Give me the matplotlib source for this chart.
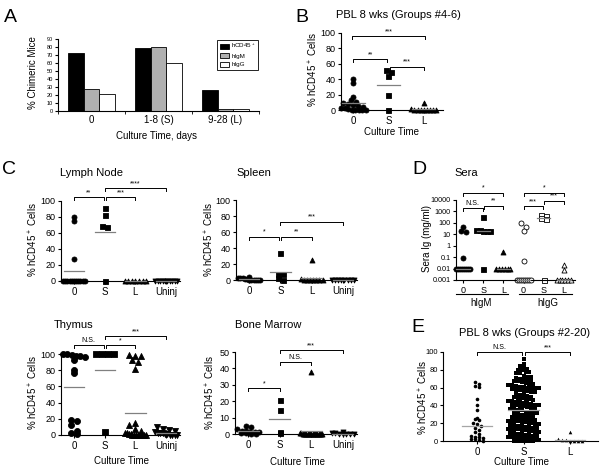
import matplotlib.pyplot as plt
import numpy as np

plt.rcParams['font.family'] = ['Liberation Sans', 'DejaVu Sans']
plt.rcParams['mathtext.fontset'] = 'custom'
plt.rcParams['mathtext.rm'] = 'Liberation Sans'
plt.rcParams['mathtext.default'] = 'regular'

# ---- data ----
# A: % chimeric mice
a_groups = ['0', '1-8 (S)', '9-28 (L)']
a_cd45 = [72, 79, 26]
a_igm = [28, 80, 2]
a_igg = [21, 60, 2]

# B: PBL 8 wks (groups 4-6)
b_0 = [40, 35, 17, 13, 10, 9, 8, 7, 5, 4, 3, 2, 1, 0, 0, 0, 0, 0]
b_S = [52, 50, 44, 19, 0]
b_L = [9, 1, 0, 0, 0, 0, 0, 0, 0, 0]

# C: organs
ln_0 = [80, 75, 27, 0, 0, 0, 0, 0, 0, 0, 0, 0, 0, 0]
ln_S = [91, 82, 69, 67, 0]
ln_L = [0, 0, 0, 0, 0, 0, 0]
ln_U = [0, 0, 0, 0, 0, 0, 0, 0, 0, 0]

sp_0 = [4, 3, 2, 2, 1, 1, 0.5, 0, 0, 0, 0, 0]
sp_S = [34, 8, 7, 3, 0]
sp_L = [25, 1, 0, 0, 0, 0, 0, 0, 0]
sp_U = [0, 0, 0, 0, 0, 0, 0, 0]

th_0 = [100, 100, 99, 98, 97, 96, 93, 80, 77, 19, 17, 12, 5, 2, 1]
th_S = [100, 100, 100, 100, 4]
th_L = [99, 98, 97, 93, 90, 82, 15, 12, 8, 5, 3, 2, 1, 1, 0, 0, 0, 0, 0, 0, 0, 0]
th_U = [10, 8, 6, 5, 4, 3, 2, 2, 1, 1, 0, 0, 0, 0]

bm_0 = [5, 4, 3, 2, 2, 1, 1, 1, 0.5, 0.5, 0, 0]
bm_S = [21, 14.5, 1.5, 0.5]
bm_L = [38, 0.5, 0.5, 0.3, 0.3, 0.2, 0, 0, 0, 0, 0, 0, 0, 0, 0, 0, 0, 0, 0, 0]
bm_U = [1, 0.5, 0.5, 0.3, 0, 0, 0, 0]

# D: sera Ig (mg/ml)
d_igm_0 = [40, 20, 15, 0.08, 0.01, 0.01, 0.01, 0.01, 0.01, 0.01, 0.01, 0.01]
d_igm_S = [350, 25, 22, 20, 20, 20, 0.01]
d_igm_L = [0.3, 0.01, 0.01, 0.01, 0.01, 0.01, 0.01]
d_igg_0 = [100, 40, 20, 0.05, 0.001, 0.001, 0.001, 0.001, 0.001, 0.001, 0.001, 0.001]
d_igg_S = [500, 400, 250, 230, 0.001]
d_igg_L = [0.02, 0.008, 0.001, 0.001, 0.001, 0.001, 0.001, 0.001]

# E: PBL 8 wks (groups 2-20)
e_0 = [66, 64, 62, 61, 47, 40, 35, 26, 25, 24, 20, 19, 17, 15, 12, 10, 8, 6, 5, 4, 3, 2, 2, 1, 0]
e_S = [92, 86, 84, 82, 81, 80, 80, 78, 77, 76, 76, 73, 72, 72, 71, 70,
       69, 68, 68, 67, 67, 66, 65, 64, 64, 63, 63, 62,
       61, 61, 60, 60, 59, 59, 58, 57, 57, 56, 56, 55, 55,
       53, 52, 52, 51, 50, 49, 48, 48, 47, 47, 46,
       45, 45, 44, 44, 43, 43, 42, 41, 41, 40, 40, 39, 39, 38,
       37, 37, 36, 36, 35, 35, 33, 33, 32, 32, 31, 30,
       29, 29, 28, 28, 27, 27, 26,
       25, 25, 24, 24, 23, 23, 22, 22, 21,
       21, 20, 20, 19, 19, 18, 18, 17,
       17, 16, 16, 15, 15, 14, 14, 13,
       13, 12, 12, 11, 11, 10, 10, 9,
       9, 8, 8, 7, 7, 6, 6, 5,
       5, 4, 4, 3, 3, 2, 2, 1,
       1, 1, 0.5, 0.5, 0, 0, 0, 0]
e_L = [10, 2, 1, 1, 0.5, 0, 0, 0]

W, H = 602, 470
fig = plt.figure(figsize=(W / 100, H / 100), dpi=100)


def box(l, t, r, b):
    ax = fig.add_axes([l / W, 1 - b / H, (r - l) / W, (b - t) / H])
    ax.spines[['top', 'right']].set_visible(False)
    ax.spines['left'].set_linewidth(0.8)
    ax.spines['bottom'].set_linewidth(0.8)
    ax.tick_params(direction='out', length=2.5, width=0.8, pad=1.5)
    ax.tick_params(axis='y', labelsize=6.5)
    ax.tick_params(axis='x', labelsize=7)
    return ax


def ftext(x, y, s, **kw):
    fig.text(x / W, 1 - y / H, s, ha='center', va='center', **kw)


def column(ax, x0, vals, marker, size_px, filled=True, maxw=0.7, stat='mean',
           gap=1.0, lcolor='0.5'):
    vals = np.asarray(vals, float)
    pix = ax.transData.transform(np.column_stack([np.full(len(vals), x0), vals]))
    unit = ax.transData.transform([[1, 0]])[0, 0] - ax.transData.transform([[0, 0]])[0, 0]
    cell = size_px * gap
    rows = np.round(pix[:, 1] / cell)
    xs = np.full(len(vals), float(x0))
    for r in np.unique(rows):
        idx = np.where(rows == r)[0]
        n = len(idx)
        if n > 1:
            step = min(cell, maxw * unit / (n - 1))
            xs[idx] = x0 + (np.arange(n) - (n - 1) / 2) * step / unit
    ms = size_px * 72 / 100
    ax.scatter(xs, vals, s=ms ** 2, marker=marker,
               facecolors='k' if filled else 'white', edgecolors='k',
               linewidths=0.6 if gap == 1.0 else 0.0, clip_on=False, zorder=2)
    m = np.median(vals) if stat == 'median' else np.mean(vals)
    ax.plot([x0 - 0.33, x0 + 0.33], [m, m], color=lcolor, lw=0.9, zorder=3,
            clip_on=False)


def bracket(ax, x1, x2, y, label, tip=3.0):
    tr = ax.get_xaxis_transform()
    h = tip / ax.bbox.height
    ax.plot([x1, x1, x2, x2], [y - h, y, y, y - h], color='k', lw=0.7,
            transform=tr, clip_on=False)
    ax.text((x1 + x2) / 2, y + 1.0 / ax.bbox.height, label, transform=tr,
            ha='center', va='bottom', fontsize=5)


ylab = '% hCD45$^+$ Cells'

# ---- A ----
ax = box(58, 39, 259, 111)
x = np.arange(len(a_groups))
w = 0.23
ax.bar(x - w, a_cd45, w, color='k', edgecolor='k', lw=0.6, label='hCD45$^+$')
ax.bar(x, a_igm, w, color='#b0b0b0', edgecolor='k', lw=0.6, label='hIgM')
ax.bar(x + w, a_igg, w, color='white', edgecolor='k', lw=0.6, label='hIgG')
ax.set_xlim(-0.5, 2.5)
ax.set_ylim(0, 90)
ax.set_yticks(range(0, 91, 10))
ax.tick_params(axis='y', labelsize=4, length=2)
ax.set_xticks(x)
ax.set_xticklabels(a_groups)
ax.tick_params(axis='x', length=0, pad=3)
ax.set_xticks([-0.5, 0.5, 1.5, 2.5], minor=True)
ax.tick_params(axis='x', which='minor', length=2, width=0.6)
leg = ax.legend(loc='upper right', bbox_to_anchor=(1.0, 1.0), fontsize=4.5,
                fancybox=False, edgecolor='k', framealpha=1,
                handlelength=1.4, handleheight=0.9, borderpad=0.4,
                labelspacing=0.45, handletextpad=0.4, borderaxespad=0.1)
leg.get_frame().set_linewidth(0.6)
ftext(10, 17, 'A', fontsize=14)
ftext(33, 73, '% Chimeric Mice', fontsize=7, rotation=90)
ftext(157, 136, 'Culture Time, days', fontsize=7)

# ---- B ----
ax = box(341, 33, 443, 110)
ax.set_xlim(-0.35, 2.55)
ax.set_ylim(0, 100)
ax.set_yticks(range(0, 101, 20))
ax.set_xticks([0, 1, 2])
ax.set_xticklabels(['0', 'S', 'L'])
column(ax, 0, b_0, 'o', 5)
column(ax, 1, b_S, 's', 5)
column(ax, 2, b_L, '^', 5)
bracket(ax, -0.03, 2.03, 0.96, '***')
bracket(ax, 0.0, 0.97, 0.66, '**')
bracket(ax, 1.03, 2.0, 0.56, '***')
ftext(302, 17, 'B', fontsize=14)
ftext(398, 15, 'PBL 8 wks (Groups #4-6)', fontsize=8)
ftext(313, 70, ylab, fontsize=7, rotation=90)
ftext(392, 132, 'Culture Time', fontsize=7)

organ_cats = ['0', 'S', 'L', 'Uninj']


def organ(l, t, r, b, g0, gS, gL, gU, ymax, step, size=5):
    ax = box(l, t, r, b)
    ax.set_xlim(-0.42, 3.45)
    ax.set_ylim(0, ymax)
    ax.set_yticks(range(0, ymax + 1, step))
    ax.set_xticks(range(4))
    ax.set_xticklabels(organ_cats)
    column(ax, 0, g0, 'o', size)
    column(ax, 1, gS, 's', size)
    column(ax, 2, gL, '^', size)
    column(ax, 3, gU, 'v', size)
    return ax


# ---- C: lymph node ----
ax = organ(61, 201, 180, 281, ln_0, ln_S, ln_L, ln_U, 100, 20)
bracket(ax, 0.0, 0.97, 1.05, '**')
bracket(ax, 1.03, 2.0, 1.05, '***')
bracket(ax, 1.0, 3.0, 1.16, '****')
ftext(9, 170, 'C', fontsize=14)
ftext(91, 173, 'Lymph Node', fontsize=8)
ftext(33, 240, ylab, fontsize=7, rotation=90)

# ---- C: spleen ----
ax = organ(236, 200, 357, 280, sp_0, sp_S, sp_L, sp_U, 100, 20)
bracket(ax, 0.0, 0.97, 0.54, '*')
bracket(ax, 1.03, 2.0, 0.54, '**')
bracket(ax, 1.0, 3.0, 0.73, '***')
ftext(254, 173, 'Spleen', fontsize=8)
ftext(209, 240, ylab, fontsize=7, rotation=90)

# ---- C: thymus ----
ax = organ(61, 354, 180, 435, th_0, th_S, th_L, th_U, 100, 20, size=6)
bracket(ax, 0.0, 0.97, 1.11, 'N.S.')
bracket(ax, 1.03, 2.0, 1.11, '*')
bracket(ax, 1.0, 3.0, 1.22, '***')
ftext(74, 325, 'Thymus', fontsize=8)
ftext(33, 393, ylab, fontsize=7, rotation=90)
ftext(122, 461, 'Culture Time', fontsize=7)

# ---- C: bone marrow ----
ax = organ(235, 352, 357, 434, bm_0, bm_S, bm_L, bm_U, 50, 10)
bracket(ax, 0.0, 1.0, 0.56, '*')
bracket(ax, 1.0, 2.0, 0.88, 'N.S.')
bracket(ax, 1.0, 3.0, 1.02, '***')
ftext(268, 325, 'Bone Marrow', fontsize=8)
ftext(210, 393, ylab, fontsize=7, rotation=90)
ftext(297, 462, 'Culture Time', fontsize=7)

# ---- D ----
ax = box(456, 200, 575, 280)
ax.set_xlim(-0.35, 5.55)
ax.set_yscale('log')
ax.set_ylim(1e-3, 1e4)
dticks = [1e-3, 1e-2, 1e-1, 1, 10, 100, 1000, 10000]
ax.set_yticks(dticks)
ax.set_yticklabels(['0.001', '0.01', '0.1', '1', '10', '100', '1000', '10000'])
ax.yaxis.set_minor_locator(plt.NullLocator())
ax.tick_params(axis='y', labelsize=5.2)
ax.set_xticks(range(6))
ax.set_xticklabels(['0', 'S', 'L', '0', 'S', 'L'], fontsize=6.5)
column(ax, 0, d_igm_0, 'o', 5, stat='median')
column(ax, 1, d_igm_S, 's', 5, stat='median')
column(ax, 2, d_igm_L, '^', 5, stat='median')
column(ax, 3, d_igg_0, 'o', 5, filled=False, stat='median')
column(ax, 4, d_igg_S, 's', 5, filled=False, stat='median')
column(ax, 5, d_igg_L, '^', 5, filled=False, stat='median')
bracket(ax, 0.0, 0.97, 0.90, 'N.S.')
bracket(ax, 1.03, 2.0, 0.93, '**')
bracket(ax, 0.0, 2.0, 1.09, '*')
bracket(ax, 3.0, 3.97, 0.92, '***')
bracket(ax, 4.03, 5.0, 0.99, '***')
bracket(ax, 3.0, 5.0, 1.09, '*')
tr = ax.get_xaxis_transform()
ax.plot([-0.35, 2.25], [-0.175, -0.175], color='k', lw=0.8, transform=tr, clip_on=False)
ax.plot([2.75, 5.4], [-0.175, -0.175], color='k', lw=0.8, transform=tr, clip_on=False)
ax.text(0.9, -0.29, 'hIgM', transform=tr, ha='center', va='center', fontsize=7)
ax.text(4.2, -0.29, 'hIgG', transform=tr, ha='center', va='center', fontsize=7)
ftext(419, 169, 'D', fontsize=14)
ftext(466, 173, 'Sera', fontsize=8)
ftext(427, 238, 'Sera Ig (mg/ml)', fontsize=7, rotation=90)

# ---- E ----
ax = box(443, 352, 598, 441)
ax.set_xlim(-0.73, 2.6)
ax.set_ylim(0, 100)
ax.set_yticks(range(0, 101, 20))
ax.tick_params(axis='y', labelsize=5.5, pad=1)
ax.set_xticks([0, 1, 2])
ax.set_xticklabels(['0', 'S', 'L'])
column(ax, 0, e_0, 'o', 3.6, maxw=0.66, stat='median', gap=1.15, lcolor='0.65')
column(ax, 1, e_S, 's', 3.3, maxw=0.66, stat='median', gap=1.2, lcolor='0.65')
column(ax, 2, e_L, '^', 3.6, maxw=0.66, stat='median', gap=1.15, lcolor='0.65')
bracket(ax, 0.0, 0.97, 1.0, 'N.S.')
bracket(ax, 1.03, 2.0, 1.0, '***')
ftext(418, 328, 'E', fontsize=14)
ftext(525, 333, 'PBL 8 wks (Groups #2-20)', fontsize=8)
ftext(423, 398, ylab, fontsize=7, rotation=90)
ftext(522, 462, 'Culture Time', fontsize=7)

plt.savefig('out.png', dpi=100)
